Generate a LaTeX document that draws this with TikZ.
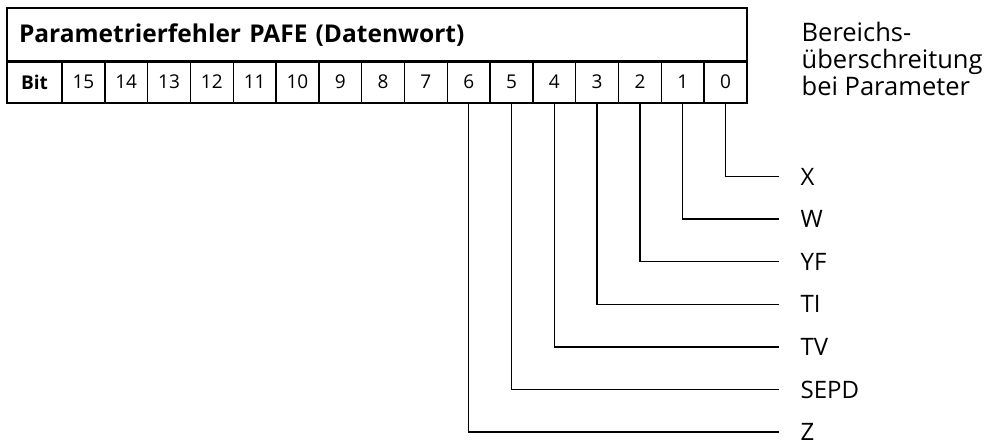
\documentclass[tikz,border=0pt]{standalone}
\usepackage{fontspec}
\setmainfont{Open Sans}
\usetikzlibrary{positioning,calc}

\begin{document}
\begin{tikzpicture}[x=1pt, y=-1pt, line width=1.4pt]
        \tikzstyle{head} = [rectangle, draw, text width=716pt, align=left, inner xsep=12pt, minimum height=54pt, font=\bfseries\fontsize{24.5}{26}\selectfont]
        \tikzstyle{cell} = [rectangle, draw, minimum width=42.8pt, minimum height=42pt, inner sep=0pt, font=\fontsize{19}{20}\selectfont]
        \tikzstyle{lbl} = [anchor=west, inner xsep=21pt, inner ysep=0pt, font=\fontsize{24}{26}\selectfont]
        \useasboundingbox (0,0) rectangle (998,445);

        \node [head] (hdr) at (377,35) {Parametrierfehler PAFE (Datenwort)};
        \node [cell, minimum width=55pt, font=\bfseries\fontsize{19}{20}\selectfont] (bit) at (34.5,82) {Bit};
        \foreach \b [evaluate=\b as \xc using 747-(\b+0.5)*42.8125] in {0,...,15}
            \node [cell] (b\b) at (\xc,82) {\b};

        \node [anchor=north west, align=left, inner sep=0pt, font=\fontsize{25.5}{27}\selectfont] (note) at (801,21) {Bereichs-\\überschreitung\\bei Parameter};

        % one line from each flag bit down and across to its parameter
        \foreach \b/\name in {0/X, 1/W, 2/YF, 3/TI, 4/TV, 5/SEPD, 6/Z} {
            \node [lbl] (p\b) at (779,{176.5+42.6*\b}) {\name};
            \draw (b\b.south) |- (p\b.west);
        }
    \end{tikzpicture}
\end{document}
